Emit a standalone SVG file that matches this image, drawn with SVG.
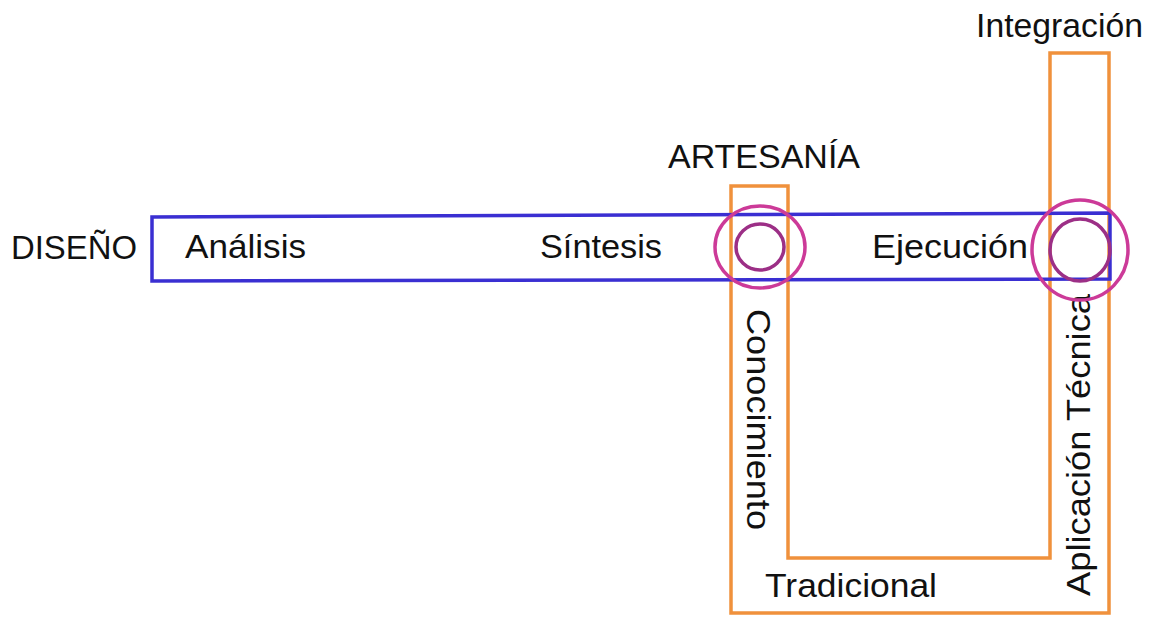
<svg xmlns="http://www.w3.org/2000/svg" width="1164" height="625" viewBox="0 0 1164 625">
<style>
.t{font-family:"Liberation Sans",Arial,sans-serif;font-size:34px;fill:#111}
.or{fill:none;stroke:#f0913c;stroke-width:3.5;stroke-linejoin:miter}
.bl{fill:none;stroke:#3a2fd2;stroke-width:3.5}
.c1{fill:none;stroke:#cc3a98;stroke-width:3.5}
.c2{fill:none;stroke:#9c2f86;stroke-width:3.5}
</style>
<rect width="1164" height="625" fill="#fff"/>
<g id="tradicional">
<path class="or" d="M731,186 L731,613 L1109,613 L1109,53 L1050,53 L1050,558 L788,558 L788,186 Z"/>
<text class="t" x="765" y="597" textLength="172" lengthAdjust="spacingAndGlyphs">Tradicional</text>
<text class="t" transform="translate(747,309) rotate(90)" textLength="221" lengthAdjust="spacingAndGlyphs">Conocimiento</text>
<text class="t" transform="translate(1090,596) rotate(-90)" textLength="302" lengthAdjust="spacingAndGlyphs">Aplicación Técnica</text>
</g>
<g id="diseno">
<path class="bl" d="M152,217 L1110,213 L1110,279 L152,281 Z"/>
<text class="t" x="11" y="259" textLength="126" lengthAdjust="spacingAndGlyphs">DISEÑO</text>
<text class="t" x="185" y="258" textLength="121" lengthAdjust="spacingAndGlyphs">Análisis</text>
<text class="t" x="540" y="258" textLength="122" lengthAdjust="spacingAndGlyphs">Síntesis</text>
<text class="t" x="872" y="258" textLength="156" lengthAdjust="spacingAndGlyphs">Ejecución</text>
</g>
<g id="artesania">
<ellipse class="c1" cx="760" cy="247" rx="45" ry="41"/>
<ellipse class="c2" cx="760" cy="247" rx="24" ry="23"/>
<text class="t" x="668" y="168" textLength="192" lengthAdjust="spacingAndGlyphs">ARTESANÍA</text>
</g>
<g id="integracion">
<ellipse class="c1" cx="1080" cy="250" rx="48" ry="50"/>
<ellipse class="c2" cx="1080" cy="250" rx="30" ry="31"/>
<text class="t" x="976" y="37" textLength="167" lengthAdjust="spacingAndGlyphs">Integración</text>
</g>
<g id="connectors"></g>
</svg>
